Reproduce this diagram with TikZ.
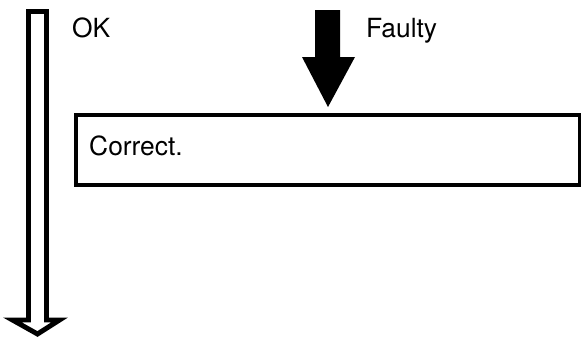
\documentclass[tikz,border=0pt]{standalone}
\usepackage{fontspec}
\setmainfont{TeX Gyre Heros}
\usetikzlibrary{positioning}
\tikzset{
  lbl/.style={anchor=base west,inner sep=0pt,font=\fontsize{22.5}{27}\selectfont},
  outline/.style={line width=4.2pt,line join=miter}
}
\begin{document}
\begin{tikzpicture}[x=0.03cm,y=-0.03cm]
	\useasboundingbox (0,0) rectangle (581,337);
    % hollow arrow on the left
    \draw[outline] (28.5,11.5) -- (46.5,11.5) -- (46.5,320) -- (59.5,320) -- (37.5,334) -- (12.5,320) -- (28.5,320) -- cycle;
    % solid arrow into the box
    \fill[black] (315,10) -- (340,10) -- (340,57) -- (355,57) -- (328,107) -- (302,57) -- (315,57) -- cycle;
    \node[outline,draw,anchor=north west,inner sep=0pt,minimum width=15.14cm,minimum height=2.1cm] (box) at (73.5,112.5) {};
    \node[lbl] (correct) at (89,155) {Correct.};
    \node[lbl] (ok) at (72,37) {OK};
    \node[lbl] (faulty) at (366,37) {Faulty};
\end{tikzpicture}
\end{document}
